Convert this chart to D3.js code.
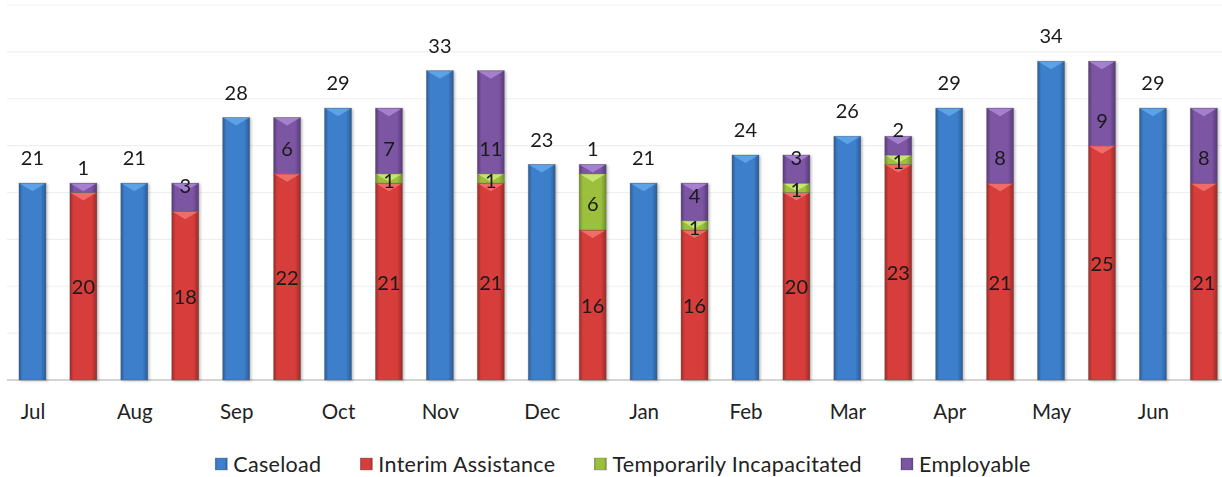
<!DOCTYPE html>
<html>
<head>
<meta charset="utf-8">
<script src="https://cdn.jsdelivr.net/npm/d3@7"></script>
<style>
  body { margin: 0; background: #fff; }
  svg { display: block; font-family: Lato, 'Open Sans', sans-serif; }
</style>
</head>
<body>
<svg></svg>
<script>
// monthly caseload vs. breakdown of cases
var months = ['Jul', 'Aug', 'Sep', 'Oct', 'Nov', 'Dec', 'Jan', 'Feb', 'Mar', 'Apr', 'May', 'Jun'];
var caseload = [21, 21, 28, 29, 33, 23, 21, 24, 26, 29, 34, 29];
var interim = [20, 18, 22, 21, 21, 16, 16, 20, 23, 21, 25, 21];
var tempInc = [0, 0, 0, 1, 1, 6, 1, 1, 1, 0, 0, 0];
var employable = [1, 3, 6, 7, 11, 1, 4, 3, 2, 8, 9, 8];
var seriesNames = ['Caseload', 'Interim Assistance', 'Temporarily Incapacitated', 'Employable'];
var yTicks = [0, 5, 10, 15, 20, 25, 30, 35, 40];

var width = 1222, height = 477;
var svg = d3.select('svg').attr('width', width).attr('height', height);

// colours: [edge, middle, top highlight]
var palette = {
  caseload:   ['#2a5c97', '#3c7fcb', '#62a8ec'],
  interim:    ['#9c2b28', '#d63e3a', '#f27672'],
  tempInc:    ['#728f2a', '#9cc03e', '#cfe979'],
  employable: ['#573a78', '#7b54a3', '#ad88d6']
};
var keys = ['caseload', 'interim', 'tempInc', 'employable'];

var defs = svg.append('defs');
keys.forEach(function(k) {
  var g = defs.append('linearGradient').attr('id', 'g-' + k)
    .attr('x1', 0).attr('x2', 1).attr('y1', 0).attr('y2', 0);
  g.append('stop').attr('offset', '0%').attr('stop-color', palette[k][0]);
  g.append('stop').attr('offset', '14%').attr('stop-color', palette[k][1]);
  g.append('stop').attr('offset', '80%').attr('stop-color', palette[k][1]);
  g.append('stop').attr('offset', '100%').attr('stop-color', palette[k][0]);
});
var shadow = defs.append('filter').attr('id', 'shadow')
  .attr('x', '-20%').attr('y', '-5%').attr('width', '150%').attr('height', '110%');
shadow.append('feDropShadow').attr('dx', 1.5).attr('dy', 1).attr('stdDeviation', 1.2)
  .attr('flood-color', '#000').attr('flood-opacity', 0.25);

var y = d3.scaleLinear().domain([0, 40]).range([380, 5]);

var x = d3.scaleBand().domain(months).range([7, 1229.3]);
var xInner = d3.scaleBand().domain(['caseload', 'stack'])
  .range([0, x.bandwidth()]).paddingInner(0.47).paddingOuter(0.235);

// grid
svg.append('g').selectAll('line')
  .data(yTicks).enter().append('line')
  .attr('x1', 7).attr('x2', width)
  .attr('y1', d => y(d)).attr('y2', d => y(d))
  .attr('stroke', d => d === 0 ? '#d4d4d4' : '#efefef')
  .attr('stroke-width', d => d === 0 ? 2 : 1.2);

var rows = months.map(function(m, i) {
  return { month: m, caseload: caseload[i], interim: interim[i], tempInc: tempInc[i], employable: employable[i] };
});
var stack = d3.stack().keys(['interim', 'tempInc', 'employable'])(rows);

var bw = xInner.bandwidth();

function drawBar(g, key, x0, y0, y1) {
  if (y1 - y0 <= 0) return;
  g.append('rect')
    .attr('x', x0).attr('y', y0).attr('width', bw).attr('height', y1 - y0)
    .attr('fill', 'url(#g-' + key + ')')
    .attr('stroke', 'rgba(90,90,90,0.45)').attr('stroke-width', 0.8);
  var th = Math.min(8, y1 - y0);
  g.append('path')
    .attr('d', 'M' + (x0 + 1) + ',' + (y0 + 0.5) + 'L' + (x0 + bw - 1) + ',' + (y0 + 0.5) +
      'L' + (x0 + bw / 2) + ',' + (y0 + th) + 'Z')
    .attr('fill', palette[key][2]).attr('opacity', 0.85);
}

var bars = svg.append('g').attr('filter', 'url(#shadow)');
rows.forEach(function(r) {
  var cx = x(r.month) + xInner('caseload');
  drawBar(bars, 'caseload', cx, y(r.caseload), y(0));
});
stack.forEach(function(s) {
  s.forEach(function(d) {
    var sx = x(d.data.month) + xInner('stack');
    drawBar(bars, s.key, sx, y(d[1]), y(d[0]));
  });
});

// value labels
var labels = svg.append('g').attr('font-size', 20).attr('fill', '#1a1a1a').attr('text-anchor', 'middle');
rows.forEach(function(r) {
  labels.append('text')
    .attr('x', x(r.month) + xInner('caseload') + bw / 2)
    .attr('y', y(r.caseload) - 25).attr('dy', '0.36em')
    .text(r.caseload);
});
stack.forEach(function(s) {
  s.forEach(function(d) {
    var v = d[1] - d[0];
    if (v <= 0) return;
    var cx = x(d.data.month) + xInner('stack') + bw / 2;
    var ly;
    if (s.key === 'employable') ly = y(d[0]) - 25;
    else if (s.key === 'tempInc') ly = (y(d[0]) + y(d[1])) / 2 + 2;
    else ly = (y(d[0]) + y(d[1])) / 2 + 1;
    labels.append('text').attr('x', cx).attr('y', ly).attr('dy', '0.36em').text(v);
  });
});

// month axis
var axis = svg.append('g').attr('transform', 'translate(0,412)')
  .call(d3.axisBottom(d3.scalePoint().domain(months)
    .range([x(months[0]) + xInner('caseload') + bw / 2, x(months[11]) + xInner('caseload') + bw / 2]))
    .tickSize(0).tickPadding(0));
axis.select('.domain').remove();
axis.selectAll('text').attr('font-size', 20.5).attr('fill', '#222').attr('dy', '0.36em')
  .attr('font-family', 'Lato, sans-serif');

// legend
var legend = svg.append('g').attr('transform', 'translate(0,464)');
var lx = 0;
var items = legend.selectAll('g').data(seriesNames).enter().append('g');
items.append('rect').attr('x', 0).attr('y', -6).attr('width', 12).attr('height', 12)
  .attr('fill', (d, i) => 'url(#g-' + keys[i] + ')')
  .attr('stroke', 'rgba(90,90,90,0.5)').attr('stroke-width', 0.6);
items.append('text').attr('x', 18).attr('dy', '0.36em').attr('font-size', 21.5)
  .attr('letter-spacing', 0.3).attr('fill', '#222')
  .text(d => d);
items.each(function() {
  d3.select(this).attr('transform', 'translate(' + lx + ',0)');
  lx += this.getBBox().width + 39;
});
lx -= 39;
legend.attr('transform', 'translate(' + (623 - lx / 2) + ',464)');
</script>
</body>
</html>
